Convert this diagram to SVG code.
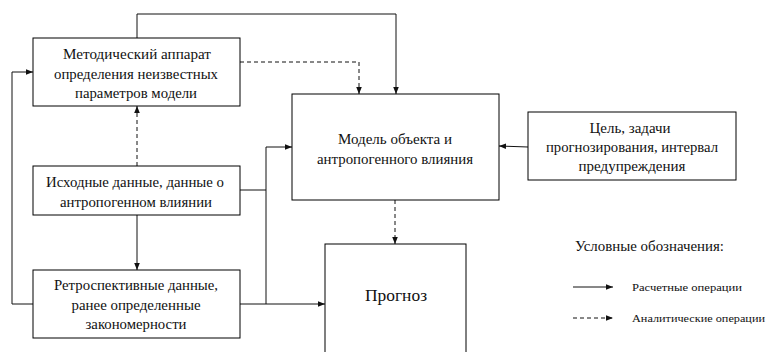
<svg xmlns="http://www.w3.org/2000/svg" width="767" height="352" viewBox="0 0 767 352">
<style>
.box{fill:#fff;stroke:#000;stroke-width:1}
.ln{fill:none;stroke:#111;stroke-width:1}
.dash{stroke-dasharray:4,3}
text{font-family:"Liberation Serif","DejaVu Serif","Times New Roman",serif;font-size:14px;fill:#111;text-anchor:middle}
.big{font-size:16px}
.hd{font-size:14px;text-anchor:start}
.sm{font-size:11px;text-anchor:start}
</style>
<defs>
<marker id="ar" viewBox="0 0 8 8" refX="8" refY="4" markerWidth="7" markerHeight="7" markerUnits="userSpaceOnUse" orient="auto">
<path d="M0,0.8 L8,4 L0,7.2 Z" fill="#111"/>
</marker>
</defs>
<rect width="767" height="352" fill="#fff"/>
<g id="connectors">
<polyline class="ln" points="137,38 137,14 396,14 396,94" marker-end="url(#ar)"/>
<polyline class="ln dash" points="240,62 359,62 359,94" marker-end="url(#ar)"/>
<polyline class="ln" points="33,304 12,304 12,72 33,72" marker-end="url(#ar)"/>
<line class="ln dash" x1="137" y1="166" x2="137" y2="106" marker-end="url(#ar)"/>
<line class="ln" x1="137" y1="215" x2="137" y2="270" marker-end="url(#ar)"/>
<line class="ln" x1="240" y1="190" x2="266" y2="190"/>
<polyline class="ln" points="266,304 266,147 292,147" marker-end="url(#ar)"/>
<line class="ln" x1="240" y1="304" x2="325" y2="304" marker-end="url(#ar)"/>
<line class="ln" x1="528" y1="147" x2="499" y2="146" marker-end="url(#ar)"/>
<line class="ln dash" x1="395" y1="200" x2="395" y2="244" marker-end="url(#ar)"/>
<line class="ln" x1="573" y1="287" x2="613" y2="287" marker-end="url(#ar)"/>
<line class="ln dash" x1="573" y1="318" x2="613" y2="318" marker-end="url(#ar)"/>
</g>
<g id="n1">
<rect class="box" x="33" y="38" width="207" height="68"/>
<text x="137" y="59" textLength="148" lengthAdjust="spacingAndGlyphs">Методический аппарат</text>
<text x="136" y="79" textLength="164" lengthAdjust="spacingAndGlyphs">определения неизвестных</text>
<text x="136" y="98" textLength="122" lengthAdjust="spacingAndGlyphs">параметров модели</text>
</g>
<g id="n2">
<rect class="box" x="33" y="166" width="207" height="49"/>
<text x="135" y="187" textLength="178" lengthAdjust="spacingAndGlyphs">Исходные данные, данные о</text>
<text x="136" y="207" textLength="152" lengthAdjust="spacingAndGlyphs">антропогенном влиянии</text>
</g>
<g id="n3">
<rect class="box" x="33" y="270" width="207" height="68"/>
<text x="136" y="290" textLength="164" lengthAdjust="spacingAndGlyphs">Ретроспективные данные,</text>
<text x="136" y="310" textLength="129" lengthAdjust="spacingAndGlyphs">ранее определенные</text>
<text x="136" y="329" textLength="101" lengthAdjust="spacingAndGlyphs">закономерности</text>
</g>
<g id="n4">
<rect class="box" x="292" y="94" width="207" height="106"/>
<text x="395" y="144" textLength="114" lengthAdjust="spacingAndGlyphs">Модель объекта и</text>
<text x="395" y="164" textLength="156" lengthAdjust="spacingAndGlyphs">антропогенного влияния</text>
</g>
<g id="n5">
<rect class="box" x="528" y="112" width="208" height="68"/>
<text x="630" y="133" textLength="81" lengthAdjust="spacingAndGlyphs">Цель, задачи</text>
<text x="632" y="152" textLength="172" lengthAdjust="spacingAndGlyphs">прогнозирования, интервал</text>
<text x="632" y="171" textLength="107" lengthAdjust="spacingAndGlyphs">предупреждения</text>
</g>
<g id="n6">
<rect class="box" x="325" y="244" width="141" height="130"/>
<text class="big" x="396" y="301" textLength="62" lengthAdjust="spacingAndGlyphs">Прогноз</text>
</g>
<g id="legend">
<text class="hd" x="575" y="251" textLength="149" lengthAdjust="spacingAndGlyphs">Условные обозначения:</text>
<text class="sm" x="632" y="291" textLength="110" lengthAdjust="spacingAndGlyphs">Расчетные операции</text>
<text class="sm" x="632" y="322" textLength="133" lengthAdjust="spacingAndGlyphs">Аналитические операции</text>
</g>
</svg>
